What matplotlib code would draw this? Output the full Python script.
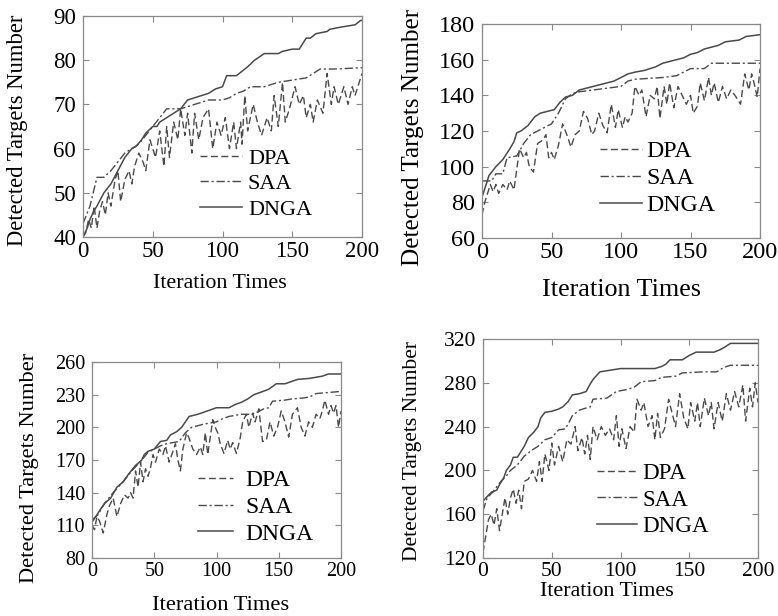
import numpy as np
import matplotlib
matplotlib.use("Agg")
import matplotlib.pyplot as plt

# ---- panel 1 (top left) ----
p1_dpa_x = [0, 2, 4, 6, 8, 10, 12, 14, 16, 18, 20, 23, 25, 27, 30, 33, 35, 37, 40, 43, 45, 48,
            50, 52, 55, 58, 60, 62, 65, 68, 70, 73, 75, 78, 80, 83, 86, 90, 93, 96, 99, 102,
            105, 108, 110, 113, 114, 116, 118, 122, 125, 128, 132, 135, 137, 140, 143, 145,
            148, 152, 155, 158, 160, 163, 165, 168, 172, 175, 178, 180, 183, 187, 190, 193,
            195, 198, 200]
p1_dpa_y = [40, 41, 44, 42, 47, 42, 46, 48, 45, 50, 47, 53, 55, 48, 53, 55, 52, 56, 59, 57, 55, 62,
            60, 58, 64, 56, 65, 58, 66, 62, 69, 63, 68, 59, 68, 62, 67, 69, 60, 66, 63, 67,
            60, 66, 60, 66, 61, 72, 64, 70, 66, 63, 67, 64, 72, 65, 75, 66,
            69, 74, 70, 72, 67, 70, 66, 71, 68, 77, 70, 74, 70, 74, 70, 74,
            72, 75, 77]
p1_saa_x = [0, 5, 10, 15, 20, 25, 30, 35, 40, 45, 50, 55, 60, 70, 80, 90, 100, 105, 110, 115,
            120, 130, 140, 150, 160, 170, 180, 200]
p1_saa_y = [43, 47, 53.5, 53.5, 55, 57, 59, 60, 61, 63, 65, 67, 69, 69, 70, 71, 71, 71.5, 72.5, 73,
            74, 74, 75, 75.5, 76, 78, 78, 78.3]
p1_dnga_x = [0, 3, 5, 8, 10, 15, 20, 25, 30, 35, 38, 42, 45, 50, 53, 55, 60, 65, 70, 75, 80, 85,
             90, 95, 100, 103, 110, 112, 118, 123, 130, 140, 143, 150, 155, 160, 163, 167, 175,
             177, 185, 195, 199, 200]
p1_dnga_y = [40, 42, 44, 46, 47, 50, 52, 55, 58, 60, 60.5, 62, 63.5, 65, 65, 66, 67, 68, 69, 71,
             71.5, 72, 72.5, 73.5, 74, 76.5, 76.5, 77, 78.5, 80, 81.5, 81.5, 82, 82.5, 82.5, 85,
             85, 86, 86.5, 87, 87.5, 88, 89, 89]

# ---- panel 2 (top right) ----
p2_dpa_x = [0, 2, 4, 6, 8, 10, 12, 15, 18, 20, 23, 27, 30, 32, 34, 37, 40, 44, 46, 48, 50, 52,
            55, 58, 61, 64, 67, 70, 73, 76, 79, 81, 84, 87, 90, 93, 96, 98, 101, 103, 105, 108,
            110, 113, 115, 118, 121, 124, 126, 128, 131, 133, 135, 138, 141, 144, 147, 150,
            152, 155, 157, 160, 163, 165, 167, 170, 173, 176, 179, 182, 186, 189, 192, 194,
            196, 198, 200]
p2_dpa_y = [73, 80, 85, 90, 86, 90, 85, 90, 87, 92, 87, 110, 105, 108, 100, 97, 113, 115, 118, 105,
            108, 104, 112, 124, 118, 111, 118, 120, 131, 127, 118, 120, 130, 123, 119, 135, 122,
            132, 122, 128, 125, 130, 145, 140, 143, 128, 140, 138, 145, 127, 145, 135, 147, 133,
            145, 140, 135, 140, 130, 134, 147, 137, 150, 140, 147, 136, 145, 138, 143, 140, 135,
            152, 143, 152, 146, 139, 155]
p2_saa_x = [0, 7, 10, 15, 18, 25, 30, 35, 40, 45, 50, 55, 60, 65, 70, 80, 90, 100, 105, 110, 130,
            140, 150, 160, 165, 200]
p2_saa_y = [92, 92, 96, 96, 105, 106, 113, 118, 120, 122, 124, 130, 138, 141, 142, 143, 144, 145,
            148, 149, 150, 151, 155, 155, 158, 158]
p2_dnga_x = [0, 3, 5, 10, 15, 20, 23, 25, 28, 33, 38, 42, 47, 52, 56, 60, 65, 70, 75, 80, 85, 90,
             95, 100, 105, 110, 117, 125, 130, 135, 140, 145, 150, 155, 160, 165, 170, 175, 185,
             190, 200]
p2_dnga_y = [83, 90, 95, 100, 104, 110, 114, 119, 120, 123, 128, 130, 131, 132, 136, 139, 140, 143,
             144, 145, 146, 147, 148, 150, 152, 153, 154, 156, 158, 159, 160, 161, 163, 164, 166,
             167, 168, 170, 171, 173, 174]

# ---- panel 3 (bottom left) ----
p3_dpa_x = [0, 2, 4, 6, 9, 12, 14, 17, 20, 23, 26, 29, 31, 33, 35, 37, 39, 41, 43, 45, 47, 49,
            51, 54, 57, 59, 62, 65, 67, 69, 71, 73, 76, 78, 81, 84, 87, 89, 91, 93, 97, 99, 101,
            103, 106, 109, 111, 113, 116, 119, 121, 124, 126, 129, 131, 134, 137, 140, 143, 146,
            149, 152, 155, 158, 161, 165, 168, 171, 174, 177, 180, 183, 185, 187, 190, 192, 194,
            196, 198, 200]
p3_dpa_y = [110, 106, 118, 114, 103, 120, 128, 135, 118, 130, 138, 135, 140, 135, 160, 145, 168,
            150, 162, 155, 163, 175, 168, 180, 175, 183, 168, 178, 185, 170, 160, 180, 195, 190,
            180, 175, 182, 175, 195, 175, 207, 200, 195, 185, 176, 188, 180, 186, 176, 190, 205,
            212, 200, 213, 205, 217, 187, 188, 205, 192, 200, 215, 205, 191, 212, 218, 200, 192,
            205, 200, 212, 208, 215, 225, 212, 220, 213, 220, 200, 215]
p3_saa_x = [0, 5, 10, 17, 25, 32, 40, 45, 50, 55, 60, 70, 75, 80, 90, 100, 105, 110, 120, 128,
            133, 138, 142, 145, 155, 160, 170, 175, 180, 190, 200]
p3_saa_y = [115, 120, 130, 140, 150, 160, 170, 177, 180, 183, 185, 187, 195, 200, 203, 205, 208,
            210, 212, 212, 214, 217, 218, 224, 225, 226, 227, 228, 231, 232, 233]
p3_dnga_x = [0, 3, 7, 10, 15, 20, 25, 30, 35, 40, 42, 45, 50, 55, 60, 63, 68, 72, 75, 78, 85, 90,
             95, 100, 110, 115, 120, 125, 130, 135, 142, 148, 155, 160, 165, 175, 185, 190, 200]
p3_dnga_y = [113, 118, 125, 130, 135, 145, 150, 158, 165, 170, 175, 178, 180, 187, 188, 193, 196,
             200, 205, 210, 212, 214, 216, 218, 218, 221, 223, 226, 230, 232, 235, 240, 240, 242,
             244, 245, 247, 249, 249]

# ---- panel 4 (bottom right) ----
p4_dpa_x = [0, 2, 4, 6, 8, 10, 12, 14, 16, 18, 20, 22, 24, 26, 28, 30, 33, 36, 39, 41, 43, 45,
            48, 50, 52, 55, 58, 61, 64, 67, 69, 72, 74, 76, 78, 80, 83, 86, 89, 92, 95, 97, 99,
            101, 104, 107, 110, 112, 115, 117, 120, 123, 125, 127, 129, 132, 135, 137, 140, 143,
            146, 149, 151, 154, 156, 158, 161, 164, 166, 168, 171, 174, 177, 180, 183, 186, 189,
            191, 194, 196, 198, 200]
p4_dpa_y = [125, 140, 155, 160, 150, 165, 145, 160, 175, 160, 175, 183, 170, 182, 165, 190, 192,
            200, 190, 208, 190, 215, 200, 225, 205, 222, 208, 228, 224, 240, 218, 230, 215, 232,
            210, 240, 228, 240, 232, 238, 228, 250, 222, 238, 220, 240, 235, 265, 255, 262, 240,
            250, 228, 252, 230, 238, 265, 255, 240, 270, 248, 238, 262, 245, 262, 240, 266, 250,
            262, 238, 262, 245, 270, 255, 272, 258, 278, 245, 275, 258, 280, 262]
p4_saa_x = [0, 3, 7, 10, 13, 17, 20, 25, 30, 35, 40, 45, 50, 55, 60, 63, 65, 70, 75, 78, 80, 90,
            97, 105, 110, 115, 125, 130, 140, 145, 160, 170, 175, 180, 200]
p4_saa_y = [163, 175, 180, 185, 190, 195, 200, 205, 213, 218, 222, 228, 230, 237, 238, 245, 250,
            255, 257, 258, 265, 266, 272, 274, 276, 281, 282, 285, 286, 289, 290, 290, 294, 296,
            296]
p4_dnga_x = [0, 3, 6, 10, 12, 15, 17, 20, 22, 25, 27, 30, 33, 37, 40, 42, 45, 50, 55, 58, 62, 65,
             70, 75, 78, 80, 85, 90, 95, 100, 125, 130, 133, 136, 145, 150, 155, 168, 172, 175,
             180, 200]
p4_dnga_y = [172, 176, 180, 182, 187, 193, 200, 205, 212, 212, 216, 222, 230, 235, 240, 248, 253,
             254, 256, 258, 263, 269, 270, 272, 279, 283, 290, 291, 292, 293, 293, 295, 297, 301,
             301, 305, 308, 308, 310, 312, 316, 316]

y_ticks = [[40, 50, 60, 70, 80, 90],
           [60, 80, 100, 120, 140, 160, 180],
           [80, 110, 140, 170, 200, 230, 260],
           [120, 160, 200, 240, 280, 320]]
x_ticks = [0, 50, 100, 150, 200]
labels = ["DPA", "SAA", "DNGA"]

panels = [
    (p1_dpa_x, p1_dpa_y, p1_saa_x, p1_saa_y, p1_dnga_x, p1_dnga_y),
    (p2_dpa_x, p2_dpa_y, p2_saa_x, p2_saa_y, p2_dnga_x, p2_dnga_y),
    (p3_dpa_x, p3_dpa_y, p3_saa_x, p3_saa_y, p3_dnga_x, p3_dnga_y),
    (p4_dpa_x, p4_dpa_y, p4_saa_x, p4_saa_y, p4_dnga_x, p4_dnga_y),
]

W, H = 778, 616
# axes boxes in pixels: left, right, top, bottom
boxes = [(83, 362, 16, 237), (482, 760, 24, 238), (92, 341, 362, 558), (483, 758, 339, 558)]
# font sizes: ticks, ylabel, xlabel, legend
fonts = [(16.5, 16.3, 15.8, 16), (17.5, 18.1, 18.8, 17.2), (14.5, 16.2, 16.2, 17), (15.5, 15.5, 15.8, 16.6)]
# legend: anchor x, anchor y (axes fraction), handle length, text pad
leg = [(0.42, 0.24, 1.9, 0.25), (0.424, 0.278, 1.75, 0.2), (0.426, 0.26, 1.5, 0.5), (0.415, 0.265, 1.75, 0.2)]
# label centres in pixels: ylabel (x, y), xlabel (x, y)
ylab_pos = [(18, 130), (413, 137), (30, 468), (412, 451)]
xlab_pos = [(220, 283), (622, 290), (221, 605), (607, 592)]

plt.rcParams["font.family"] = ["Liberation Serif", "DejaVu Serif"]
line_col = "#4a4a4a"
spine_col = "#8a8a8a"

fig = plt.figure(figsize=(W / 100, H / 100), dpi=100)
for i, (dx, dy, sx, sy, gx, gy) in enumerate(panels):
    l, r, t, b = boxes[i]
    ax = fig.add_axes([l / W, 1 - b / H, (r - l) / W, (b - t) / H])
    ax.plot(dx, dy, color=line_col, lw=1.0, ls=(0, (5, 2.5)), label=labels[0])
    ax.plot(sx, sy, color=line_col, lw=1.0, ls=(0, (6, 2, 1.5, 2)), label=labels[1])
    ax.plot(gx, gy, color=line_col, lw=1.1, ls="-", label=labels[2])
    ax.set_xlim(0, 200)
    ax.set_ylim(y_ticks[i][0], y_ticks[i][-1])
    ax.set_xticks(x_ticks)
    ax.set_yticks(y_ticks[i])
    fs_tick, fs_y, fs_x, fs_leg = fonts[i]
    ax.tick_params(direction="in", length=4, width=0.8, color=spine_col,
                   top=True, right=True, labelsize=fs_tick)
    ax.tick_params(axis="x", pad=3)
    ax.tick_params(axis="y", pad=5)
    for s in ax.spines.values():
        s.set_color(spine_col)
        s.set_linewidth(0.9)
    fig.text(ylab_pos[i][0] / W, 1 - ylab_pos[i][1] / H, "Detected Targets Number",
             fontsize=fs_y, rotation=90, ha="center", va="center")
    fig.text(xlab_pos[i][0] / W, 1 - xlab_pos[i][1] / H, "Iteration Times",
             fontsize=fs_x, ha="center", va="center")
    lx, ly, hl, htp = leg[i]
    ax.legend(loc="center left", bbox_to_anchor=(lx, ly), frameon=False, fontsize=fs_leg,
              handlelength=hl, handletextpad=htp, labelspacing=0.22, borderpad=0,
              borderaxespad=0)

fig.savefig("out.png", dpi=100)
